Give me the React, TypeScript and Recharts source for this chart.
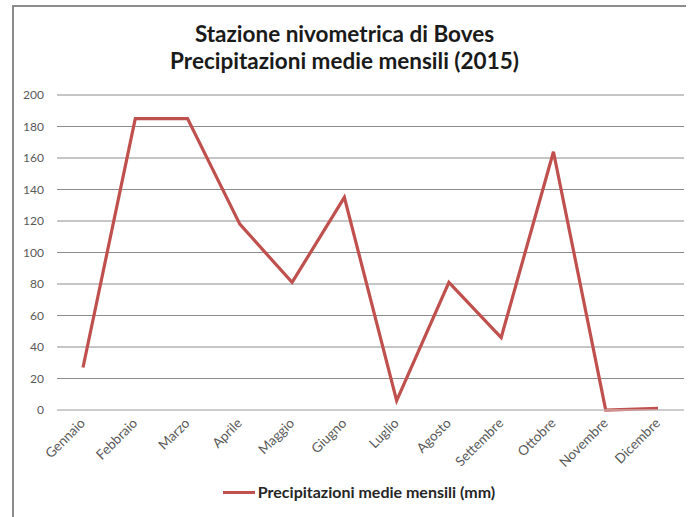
import React from 'react';
import { LineChart, Line, XAxis, YAxis, CartesianGrid, Legend } from 'recharts';

const months = ['Gennaio', 'Febbraio', 'Marzo', 'Aprile', 'Maggio', 'Giugno', 'Luglio', 'Agosto', 'Settembre', 'Ottobre', 'Novembre', 'Dicembre'];
const precip = [27, 185, 185, 118, 81, 135, 6, 81, 46, 164, 0, 1];
const yTicks = [0, 20, 40, 60, 80, 100, 120, 140, 160, 180, 200];
const seriesName = 'Precipitazioni medie mensili (mm)';
const titleLines = ['Stazione nivometrica di Boves', 'Precipitazioni medie mensili (2015)'];

const data = months.map((m, i) => ({ month: m, value: precip[i] }));

const FONT = 'Lato, "Open Sans", sans-serif';
const RED = '#c0504d';

const XTick = (props: any) => {
  const { x, y, payload } = props;
  return (
    <text x={x + 3} y={y + 6} textAnchor="end" fontSize={13.5} fill="#595959" fontFamily={FONT}
      transform={`rotate(-45, ${x + 3}, ${y + 6})`}>
      {payload.value}
    </text>
  );
};

const LegendContent = () => (
  <div style={{ display: 'flex', alignItems: 'center', justifyContent: 'center', paddingLeft: 22, fontFamily: FONT, fontWeight: 700, fontSize: 16, lineHeight: '20px', color: '#262626' }}>
    <span style={{ display: 'inline-block', width: 32, height: 3, background: RED, marginRight: 3 }} />
    <span>{seriesName}</span>
  </div>
);

export default function App() {
  return (
    <div style={{ position: 'absolute', left: 0, top: 0, width: 689, height: 517, background: '#fff', overflow: 'hidden' }}>
      <div style={{ position: 'absolute', left: 12, top: 5, width: 672, height: 520, borderTop: '2px solid #8c8c8c', borderLeft: '2px solid #8c8c8c' }} />
      <div style={{ position: 'absolute', left: 0, top: 20, width: 689, textAlign: 'center', fontFamily: FONT, fontWeight: 700, fontSize: 22.5, lineHeight: '27px', color: '#1a1a1a' }}>
        {titleLines.map((t) => <div key={t}>{t}</div>)}
      </div>
      <div style={{ position: 'absolute', left: 0, top: 0 }}>
        <LineChart width={689} height={517} data={data} margin={{ top: 95, right: 5, left: 12, bottom: 15 }}>
          <CartesianGrid horizontal vertical={false} stroke="#8c8c8c" strokeWidth={1} />
          <XAxis dataKey="month" interval={0} tick={<XTick />} tickLine={false} axisLine={{ stroke: '#d4d4d4' }} height={72}
            padding={{ left: 26, right: 26 }} />
          <YAxis domain={[0, 200]} ticks={yTicks} interval={0} width={45} tickLine={false} axisLine={false}
            tick={{ fontSize: 12, fill: '#595959', fontFamily: FONT }} tickMargin={7} />
          <Legend verticalAlign="bottom" content={<LegendContent />} />
          <Line type="linear" dataKey="value" name={seriesName} stroke={RED} strokeWidth={3.2} dot={false} isAnimationActive={false} />
        </LineChart>
      </div>
    </div>
  );
}
